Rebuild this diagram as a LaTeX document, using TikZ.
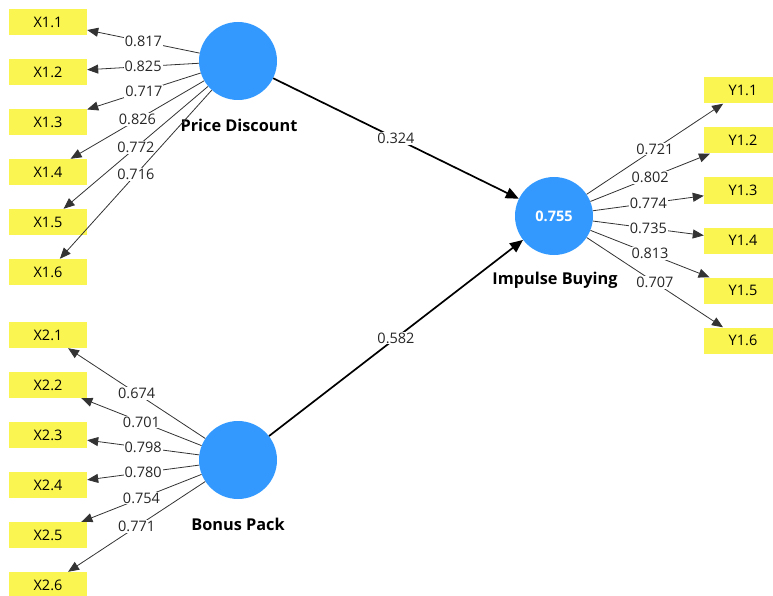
\documentclass[tikz,border=0pt]{standalone}
\usepackage{fontspec}
\setmainfont{Open Sans}
\usetikzlibrary{arrows.meta,shapes.geometric}

\definecolor{lvblue}{RGB}{51,153,255}
\definecolor{indyellow}{RGB}{250,245,80}
\newcommand{\plsfont}{\fontsize{14.5}{17}\selectfont}
\newcommand{\plsnamefont}{\fontsize{16.3}{19}\selectfont\bfseries}

\begin{document}
\begin{tikzpicture}
[x=1pt,y=-1pt,font=\plsfont,
 lv/.style={shape=circle,fill=lvblue,minimum size=78pt,inner sep=0pt,
	text=white,font=\plsfont\bfseries},
 lvname/.style={font=\plsnamefont},
 ind/.style={shape=rectangle,fill=indyellow,minimum width=78pt,
	minimum height=26pt,inner sep=0pt},
 load/.style={-{Triangle[length=11pt,width=9pt]},line width=0.8pt,draw=black!80},
 struct/.style={-{Triangle[length=13pt,width=11pt]},line width=1.7pt},
 coef/.style={fill=white,inner sep=1pt,text=black!85}]
\clip (0,0) rectangle (773,596);

% latent variables
\node[lv] (pd) at (238,61) {};
\node[lv] (bp) at (238,460) {};
\node[lv] (ib) at (554,216) {0.755};
\node[lvname] (pdname) at (239,125) {Price Discount};
\node[lvname] (bpname) at (238,524) {Bonus Pack};
\node[lvname] (ibname) at (555,280) {Impulse Buying};

% indicators
\foreach \i in {1,...,6}
{
	\node[ind] (x1\i) at (48,{22+50*(\i-1)}) {X1.\i};
	\node[ind] (x2\i) at (48,{335+50*(\i-1)}) {X2.\i};
	\node[ind] (y1\i) at (743,{90.5+50*(\i-1)}) {Y1.\i};
}

% outer loadings
\path
\foreach \ind/\val in {x11/0.817,x12/0.825,x13/0.717,x14/0.826,x15/0.772,x16/0.716}
{
	(pd) edge[load] node[coef] {\val} (\ind)
}
\foreach \ind/\val in {x21/0.674,x22/0.701,x23/0.798,x24/0.780,x25/0.754,x26/0.771}
{
	(bp) edge[load] node[coef] {\val} (\ind)
}
\foreach \ind/\val in {y11/0.721,y12/0.802,y13/0.774,y14/0.735,y15/0.813,y16/0.707}
{
	(ib) edge[load] node[coef] {\val} (\ind)
};

% path coefficients
\path
(pd) edge[struct] node[coef] {0.324} (ib)
(bp) edge[struct] node[coef] {0.582} (ib);
\end{tikzpicture}
\end{document}
